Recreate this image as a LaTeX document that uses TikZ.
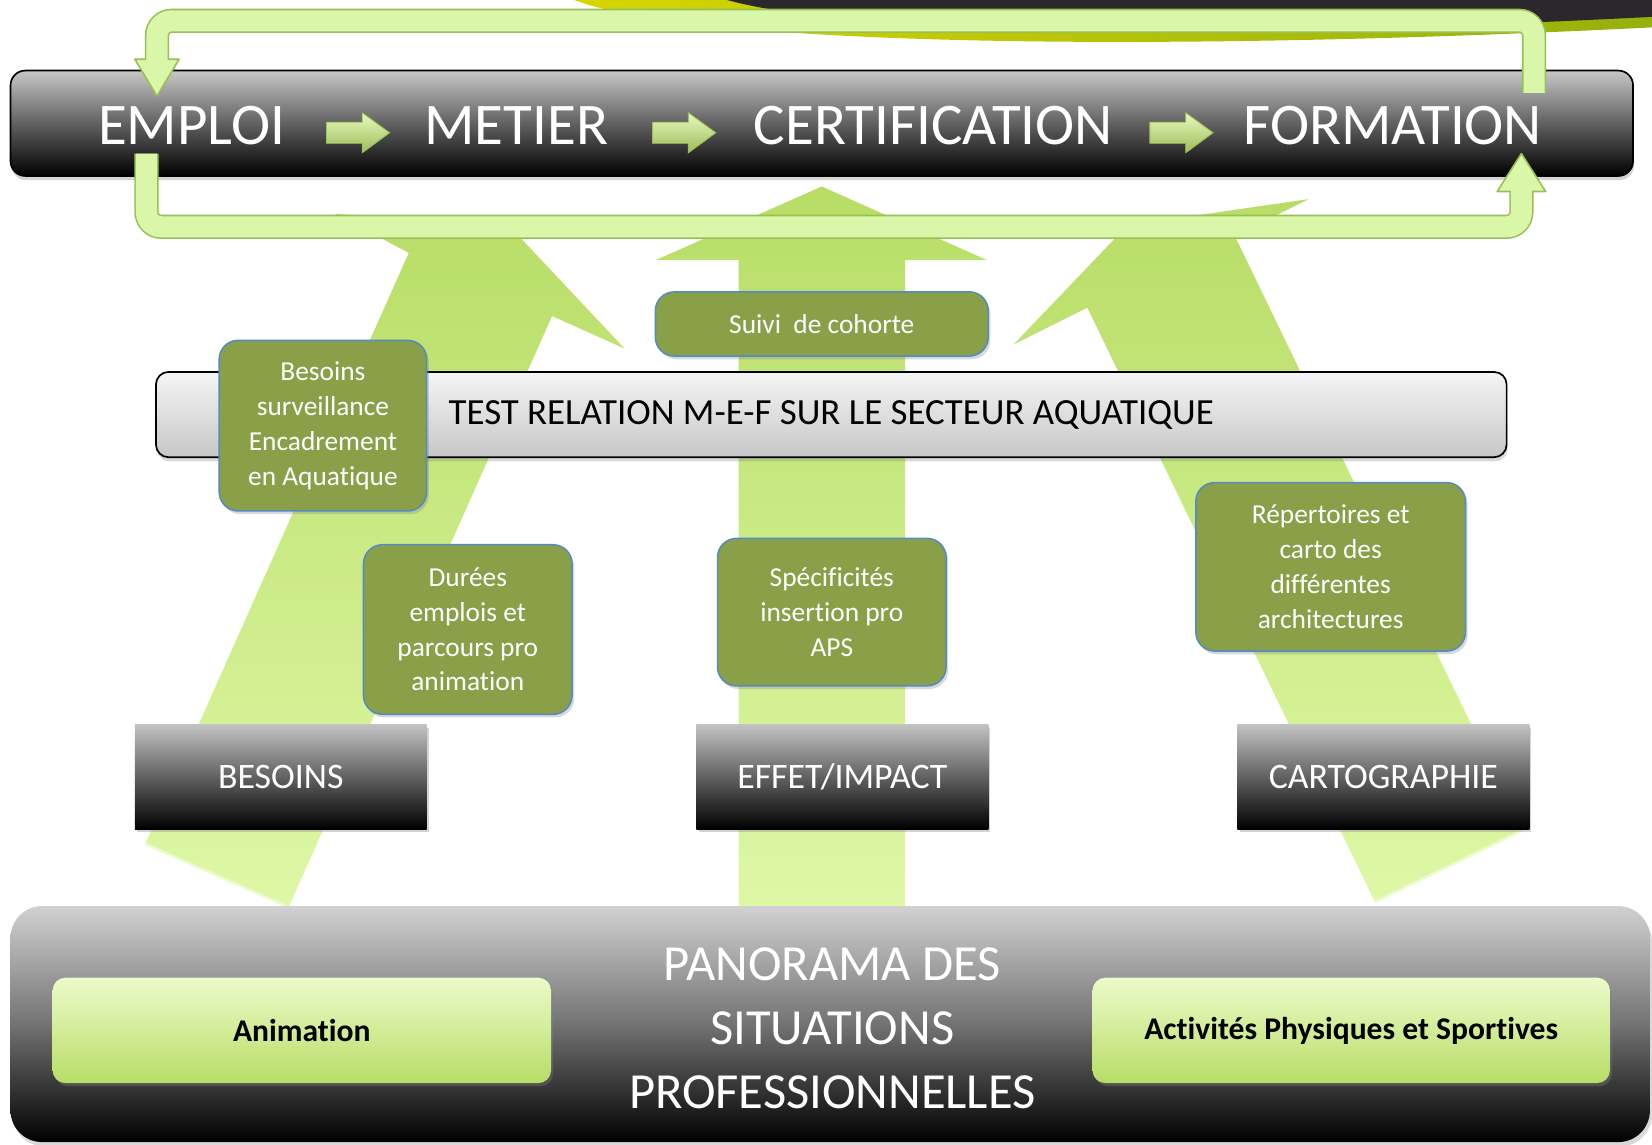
\documentclass[tikz,border=0pt]{standalone}
\usepackage{fontspec}
\setmainfont{Carlito}[Ligatures=NoCommon]
\usetikzlibrary{positioning,calc,shadows}

\definecolor{notefill}{RGB}{137,159,72}
\definecolor{noteedge}{RGB}{84,138,200}
\definecolor{arrowlight}{RGB}{222,248,166}
\definecolor{arrowdark}{RGB}{184,221,102}
\definecolor{bandfill}{RGB}{218,246,168}
\definecolor{bandedge}{RGB}{152,192,86}
\definecolor{swooshdark}{RGB}{42,40,44}
\definecolor{swooshyellow}{RGB}{214,214,0}
\definecolor{swooshgreen}{RGB}{150,176,12}

\tikzset{
  word/.style={text=white,inner sep=0pt,font=\fontsize{28}{34}\selectfont},
  chainbar/.style={draw=black,line width=.8pt,rounded corners=7pt,
    top color=black!22,bottom color=black,middle color=black!62,
    drop shadow={shadow xshift=.5pt,shadow yshift=-2pt,opacity=.35}},
  lightbar/.style={draw=black,line width=.8pt,rounded corners=6pt,
    top color=black!4,bottom color=black!22,font=\fontsize{17.5}{21}\selectfont,
    drop shadow={shadow xshift=.5pt,shadow yshift=-2pt,opacity=.3}},
  notebox/.style={draw=noteedge,line width=.7pt,fill=notefill,rounded corners=9pt,
    text=white,align=center,inner sep=2pt,font=\fontsize{13}{16.5}\selectfont,
    drop shadow={shadow xshift=1pt,shadow yshift=-1.5pt,opacity=.3}},
  labelbox/.style={top color=black!24,bottom color=black,text=white,
    minimum width=138.5pt,minimum height=49.5pt,font=\fontsize{17}{20}\selectfont,
    drop shadow={shadow xshift=1pt,shadow yshift=-1.5pt,opacity=.35}},
  panobox/.style={rounded corners=15pt,top color=black!18,bottom color=black,
    middle color=black!55,drop shadow={shadow xshift=1pt,shadow yshift=-2pt,opacity=.3}},
  sectorbox/.style={rounded corners=6pt,top color=arrowlight!60!white,bottom color=arrowdark,
    minimum height=50pt,font=\bfseries\fontsize{15}{18}\selectfont,
    drop shadow={shadow xshift=1pt,shadow yshift=-1.5pt,opacity=.35}},
  bigarrow/.style={top color=arrowdark,bottom color=arrowlight},
  bandedgeline/.style={draw=bandedge,line width=11.5pt,rounded corners=7pt},
  bandcore/.style={draw=bandfill,line width=10pt,rounded corners=7pt},
  bandhead/.style={fill=bandfill,draw=bandedge,line width=.75pt,line join=round},
  chainarrow/.pic={
    \path[draw=bandedge,line width=.4pt,top color=arrowlight!70!white,bottom color=arrowdark!85!black]
      (-30,-10) -- (4,-10) -- (4,-19) -- (30,0) -- (4,19) -- (4,10) -- (-30,10) -- cycle;
  }
}

\begin{document}
\begin{tikzpicture}[x=0.5pt,y=-0.5pt]
  \useasboundingbox (0,0) rectangle (1568,1086);

  % swoosh in the corner
  \path[left color=swooshyellow,right color=swooshgreen]
    (545,0) .. controls (650,40) and (1050,52) .. (1568,26) -- (1568,0) -- cycle;
  \fill[swooshdark] (690,0) .. controls (800,30) and (1100,40) .. (1568,16) -- (1568,0) -- cycle;

  % the three big arrows, behind everything
  \path[bigarrow] (138,801) -- (388,240) -- (318,203) -- (482,213) -- (593,331)
    -- (524,300) -- (274,861) -- cycle;
  \path[bigarrow] (701,870) -- (701,247) -- (622,247) -- (780,177) -- (937,247)
    -- (859,247) -- (859,870) -- cycle;
  \path[bigarrow] (1305,856) -- (1032,292) -- (962,327) -- (1070,214) -- (1242,189)
    -- (1172,224) -- (1445,788) -- cycle;
  \draw[white!40!arrowlight,line width=1.2pt] (138,801) -- (274,861);
  \draw[white!40!arrowlight,line width=1.2pt] (1305,856) -- (1445,788);

  % the chain on top
  \node[chainbar,minimum width=770pt,minimum height=50pt] (chain) at (780,117) {};
  \node[word] (emploi) at (182,119) {EMPLOI};
  \node[word] (metier) at (490,119) {METIER};
  \node[word] (certif) at (886,119) {CERTIFICATION};
  \node[word] (formation) at (1322,119) {FORMATION};
  \foreach \a/\b in {emploi/metier,metier/certif,certif/formation}
    \path ($(\a.east)!.5!(\b.west)+(3,7)$) pic {chainarrow};

  % loop back from FORMATION to EMPLOI
  \coordinate (toptip) at ($(emploi.north)+(-33,-9)$);
  \coordinate (topstart) at ($(formation.north east)+(-8,-12)$);
  \draw[bandedgeline] (topstart) |- ($(toptip)+(0,-71.5)$) -- ($(toptip)+(0,-35)$);
  \draw[bandhead] ($(toptip)+(-21,-35)$) -- ++(42,0) -- (toptip) -- cycle;
  \draw[bandcore] (topstart) |- ($(toptip)+(0,-71.5)$) -- ($(toptip)+(0,-33)$);

  % loop from EMPLOI to FORMATION
  \coordinate (bottip) at ($(formation.south east)+(-20,8)$);
  \coordinate (botstart) at ($(emploi.south)+(-43,8)$);
  \draw[bandedgeline] (botstart) |- ($(bottip)+(0,69.5)$) -- ($(bottip)+(0,36)$);
  \draw[bandhead] ($(bottip)+(-23,36)$) -- ++(46,0) -- (bottip) -- cycle;
  \draw[bandcore] (botstart) |- ($(bottip)+(0,69.5)$) -- ($(bottip)+(0,34)$);

  % middle bar and the notes
  \node[lightbar,minimum width=641pt,minimum height=40.5pt] (mef) at (789,393.5)
    {TEST RELATION M-E-F SUR LE SECTEUR AQUATIQUE};
  \node[notebox,minimum width=158pt,minimum height=30.5pt] (suivi) at (780,307.5) {Suivi\ \ de cohorte};
  \node[notebox,minimum width=98.5pt,minimum height=81pt] (surveil) at (306.5,404)
    {Besoins\\surveillance\\Encadrement\\en Aquatique};
  \node[notebox,minimum width=99pt,minimum height=80.5pt] (durees) at (444,597.5)
    {Durées\\emplois et\\parcours pro\\animation};
  \node[notebox,minimum width=108.5pt,minimum height=70pt] (specif) at (789.5,581)
    {Spécificités\\insertion pro\\APS};
  \node[notebox,minimum width=128pt,minimum height=80pt] (repert) at (1263,538)
    {Répertoires et\\carto des\\différentes\\architectures};

  % the three labels
  \node[labelbox] (besoins) at (266.5,737.5) {BESOINS};
  \node[labelbox] (effet) at (799.5,737.5) {EFFET/IMPACT};
  \node[labelbox] (carto) at (1313,737.5) {CARTOGRAPHIE};

  % panorama at the bottom
  \node[panobox,minimum width=778pt,minimum height=112pt] (panorama) at (788,972) {};
  \node[text=white,align=center,font=\fontsize{24}{30.5}\selectfont] (panotext) at (790,976)
    {PANORAMA DES\\SITUATIONS\\PROFESSIONNELLES};
  \node[sectorbox,minimum width=236.5pt,anchor=west] (animation)
    at ([xshift=20pt,yshift=-3pt]panorama.west) {Animation};
  \node[sectorbox,minimum width=245.5pt,anchor=east] (aps)
    at ([xshift=-19pt,yshift=-3pt]panorama.east) {Activités Physiques et Sportives};
\end{tikzpicture}
\end{document}
